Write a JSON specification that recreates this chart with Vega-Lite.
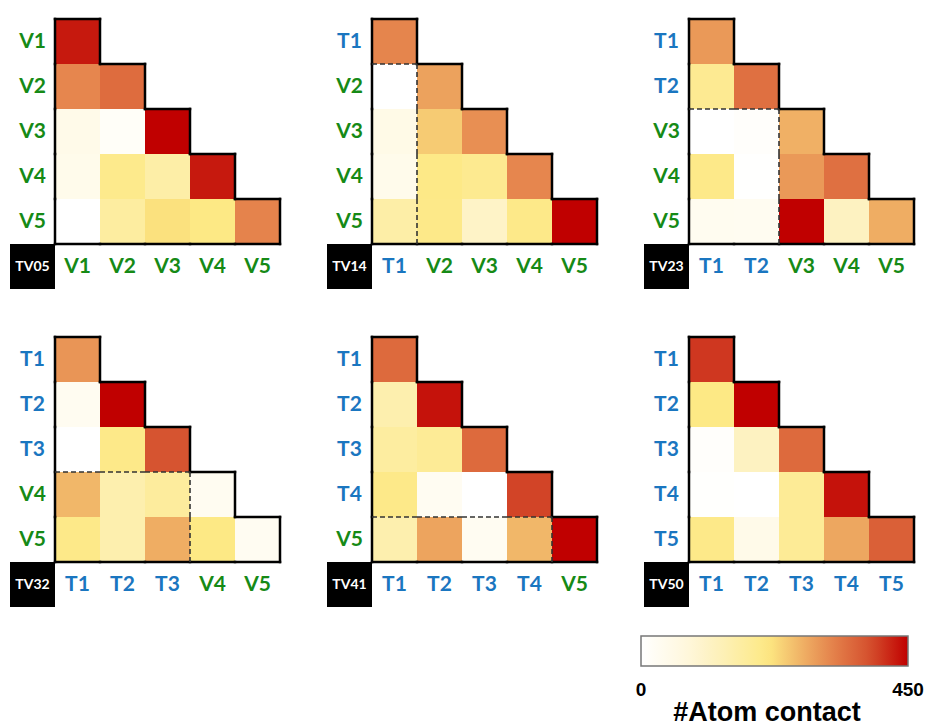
{
  "$schema": "https://vega.github.io/schema/vega-lite/v6.json",
  "padding": {"left": 10, "top": 17, "right": 0, "bottom": 0},
  "background": "white",
  "data": {
    "values": [
      {"panel": "TV05", "r": 1, "c": 1, "rl": "V1", "cl": "V1", "v": 430},
      {"panel": "TV05", "r": 2, "c": 1, "rl": "V2", "cl": "V1", "v": 318},
      {"panel": "TV05", "r": 2, "c": 2, "rl": "V2", "cl": "V2", "v": 350},
      {"panel": "TV05", "r": 3, "c": 1, "rl": "V3", "cl": "V1", "v": 50},
      {"panel": "TV05", "r": 3, "c": 2, "rl": "V3", "cl": "V2", "v": 15},
      {"panel": "TV05", "r": 3, "c": 3, "rl": "V3", "cl": "V3", "v": 450},
      {"panel": "TV05", "r": 4, "c": 1, "rl": "V4", "cl": "V1", "v": 45},
      {"panel": "TV05", "r": 4, "c": 2, "rl": "V4", "cl": "V2", "v": 200},
      {"panel": "TV05", "r": 4, "c": 3, "rl": "V4", "cl": "V3", "v": 160},
      {"panel": "TV05", "r": 4, "c": 4, "rl": "V4", "cl": "V4", "v": 430},
      {"panel": "TV05", "r": 5, "c": 1, "rl": "V5", "cl": "V1", "v": 0},
      {"panel": "TV05", "r": 5, "c": 2, "rl": "V5", "cl": "V2", "v": 170},
      {"panel": "TV05", "r": 5, "c": 3, "rl": "V5", "cl": "V3", "v": 222},
      {"panel": "TV05", "r": 5, "c": 4, "rl": "V5", "cl": "V4", "v": 210},
      {"panel": "TV05", "r": 5, "c": 5, "rl": "V5", "cl": "V5", "v": 322},

      {"panel": "TV14", "r": 1, "c": 1, "rl": "T1", "cl": "T1", "v": 320},
      {"panel": "TV14", "r": 2, "c": 1, "rl": "V2", "cl": "T1", "v": 0},
      {"panel": "TV14", "r": 2, "c": 2, "rl": "V2", "cl": "V2", "v": 288},
      {"panel": "TV14", "r": 3, "c": 1, "rl": "V3", "cl": "T1", "v": 55},
      {"panel": "TV14", "r": 3, "c": 2, "rl": "V3", "cl": "V2", "v": 245},
      {"panel": "TV14", "r": 3, "c": 3, "rl": "V3", "cl": "V3", "v": 308},
      {"panel": "TV14", "r": 4, "c": 1, "rl": "V4", "cl": "T1", "v": 45},
      {"panel": "TV14", "r": 4, "c": 2, "rl": "V4", "cl": "V2", "v": 208},
      {"panel": "TV14", "r": 4, "c": 3, "rl": "V4", "cl": "V3", "v": 195},
      {"panel": "TV14", "r": 4, "c": 4, "rl": "V4", "cl": "V4", "v": 318},
      {"panel": "TV14", "r": 5, "c": 1, "rl": "V5", "cl": "T1", "v": 160},
      {"panel": "TV14", "r": 5, "c": 2, "rl": "V5", "cl": "V2", "v": 205},
      {"panel": "TV14", "r": 5, "c": 3, "rl": "V5", "cl": "V3", "v": 110},
      {"panel": "TV14", "r": 5, "c": 4, "rl": "V5", "cl": "V4", "v": 205},
      {"panel": "TV14", "r": 5, "c": 5, "rl": "V5", "cl": "V5", "v": 450},

      {"panel": "TV23", "r": 1, "c": 1, "rl": "T1", "cl": "T1", "v": 298},
      {"panel": "TV23", "r": 2, "c": 1, "rl": "T2", "cl": "T1", "v": 192},
      {"panel": "TV23", "r": 2, "c": 2, "rl": "T2", "cl": "T2", "v": 345},
      {"panel": "TV23", "r": 3, "c": 1, "rl": "V3", "cl": "T1", "v": 0},
      {"panel": "TV23", "r": 3, "c": 2, "rl": "V3", "cl": "T2", "v": 8},
      {"panel": "TV23", "r": 3, "c": 3, "rl": "V3", "cl": "V3", "v": 272},
      {"panel": "TV23", "r": 4, "c": 1, "rl": "V4", "cl": "T1", "v": 205},
      {"panel": "TV23", "r": 4, "c": 2, "rl": "V4", "cl": "T2", "v": 3},
      {"panel": "TV23", "r": 4, "c": 3, "rl": "V4", "cl": "V3", "v": 298},
      {"panel": "TV23", "r": 4, "c": 4, "rl": "V4", "cl": "V4", "v": 345},
      {"panel": "TV23", "r": 5, "c": 1, "rl": "V5", "cl": "T1", "v": 35},
      {"panel": "TV23", "r": 5, "c": 2, "rl": "V5", "cl": "T2", "v": 32},
      {"panel": "TV23", "r": 5, "c": 3, "rl": "V5", "cl": "V3", "v": 450},
      {"panel": "TV23", "r": 5, "c": 4, "rl": "V5", "cl": "V4", "v": 120},
      {"panel": "TV23", "r": 5, "c": 5, "rl": "V5", "cl": "V5", "v": 275},

      {"panel": "TV32", "r": 1, "c": 1, "rl": "T1", "cl": "T1", "v": 302},
      {"panel": "TV32", "r": 2, "c": 1, "rl": "T2", "cl": "T1", "v": 32},
      {"panel": "TV32", "r": 2, "c": 2, "rl": "T2", "cl": "T2", "v": 450},
      {"panel": "TV32", "r": 3, "c": 1, "rl": "T3", "cl": "T1", "v": 0},
      {"panel": "TV32", "r": 3, "c": 2, "rl": "T3", "cl": "T2", "v": 205},
      {"panel": "TV32", "r": 3, "c": 3, "rl": "T3", "cl": "T3", "v": 380},
      {"panel": "TV32", "r": 4, "c": 1, "rl": "V4", "cl": "T1", "v": 265},
      {"panel": "TV32", "r": 4, "c": 2, "rl": "V4", "cl": "T2", "v": 150},
      {"panel": "TV32", "r": 4, "c": 3, "rl": "V4", "cl": "T3", "v": 175},
      {"panel": "TV32", "r": 4, "c": 4, "rl": "V4", "cl": "V4", "v": 32},
      {"panel": "TV32", "r": 5, "c": 1, "rl": "V5", "cl": "T1", "v": 205},
      {"panel": "TV32", "r": 5, "c": 2, "rl": "V5", "cl": "T2", "v": 150},
      {"panel": "TV32", "r": 5, "c": 3, "rl": "V5", "cl": "T3", "v": 275},
      {"panel": "TV32", "r": 5, "c": 4, "rl": "V5", "cl": "V4", "v": 210},
      {"panel": "TV32", "r": 5, "c": 5, "rl": "V5", "cl": "V5", "v": 30},

      {"panel": "TV41", "r": 1, "c": 1, "rl": "T1", "cl": "T1", "v": 352},
      {"panel": "TV41", "r": 2, "c": 1, "rl": "T2", "cl": "T1", "v": 150},
      {"panel": "TV41", "r": 2, "c": 2, "rl": "T2", "cl": "T2", "v": 435},
      {"panel": "TV41", "r": 3, "c": 1, "rl": "T3", "cl": "T1", "v": 170},
      {"panel": "TV41", "r": 3, "c": 2, "rl": "T3", "cl": "T2", "v": 185},
      {"panel": "TV41", "r": 3, "c": 3, "rl": "T3", "cl": "T3", "v": 352},
      {"panel": "TV41", "r": 4, "c": 1, "rl": "T4", "cl": "T1", "v": 205},
      {"panel": "TV41", "r": 4, "c": 2, "rl": "T4", "cl": "T2", "v": 30},
      {"panel": "TV41", "r": 4, "c": 3, "rl": "T4", "cl": "T3", "v": 0},
      {"panel": "TV41", "r": 4, "c": 4, "rl": "T4", "cl": "T4", "v": 395},
      {"panel": "TV41", "r": 5, "c": 1, "rl": "V5", "cl": "T1", "v": 150},
      {"panel": "TV41", "r": 5, "c": 2, "rl": "V5", "cl": "T2", "v": 285},
      {"panel": "TV41", "r": 5, "c": 3, "rl": "V5", "cl": "T3", "v": 30},
      {"panel": "TV41", "r": 5, "c": 4, "rl": "V5", "cl": "T4", "v": 265},
      {"panel": "TV41", "r": 5, "c": 5, "rl": "V5", "cl": "V5", "v": 450},

      {"panel": "TV50", "r": 1, "c": 1, "rl": "T1", "cl": "T1", "v": 405},
      {"panel": "TV50", "r": 2, "c": 1, "rl": "T2", "cl": "T1", "v": 210},
      {"panel": "TV50", "r": 2, "c": 2, "rl": "T2", "cl": "T2", "v": 450},
      {"panel": "TV50", "r": 3, "c": 1, "rl": "T3", "cl": "T1", "v": 8},
      {"panel": "TV50", "r": 3, "c": 2, "rl": "T3", "cl": "T2", "v": 120},
      {"panel": "TV50", "r": 3, "c": 3, "rl": "T3", "cl": "T3", "v": 352},
      {"panel": "TV50", "r": 4, "c": 1, "rl": "T4", "cl": "T1", "v": 5},
      {"panel": "TV50", "r": 4, "c": 2, "rl": "T4", "cl": "T2", "v": 0},
      {"panel": "TV50", "r": 4, "c": 3, "rl": "T4", "cl": "T3", "v": 185},
      {"panel": "TV50", "r": 4, "c": 4, "rl": "T4", "cl": "T4", "v": 435},
      {"panel": "TV50", "r": 5, "c": 1, "rl": "T5", "cl": "T1", "v": 205},
      {"panel": "TV50", "r": 5, "c": 2, "rl": "T5", "cl": "T2", "v": 50},
      {"panel": "TV50", "r": 5, "c": 3, "rl": "T5", "cl": "T3", "v": 185},
      {"panel": "TV50", "r": 5, "c": 4, "rl": "T5", "cl": "T4", "v": 282},
      {"panel": "TV50", "r": 5, "c": 5, "rl": "T5", "cl": "T5", "v": 365}
    ]
  },
  "facet": {"field": "panel", "type": "nominal", "title": null,
            "header": {"labels": false, "title": null, "labelExpr": "''", "labelFontSize": 0, "labelPadding": 0}},
  "columns": 3,
  "spacing": {"row": 46, "column": 45},
  "spec": {
    "width": 270,
    "height": 270,
    "encoding": {
      "x": {"field": "c", "type": "ordinal", "axis": null,
            "scale": {"domain": [0, 1, 2, 3, 4, 5], "paddingInner": 0, "paddingOuter": 0}},
      "y": {"field": "r", "type": "ordinal", "axis": null,
            "scale": {"domain": [1, 2, 3, 4, 5, 6], "paddingInner": 0, "paddingOuter": 0}}
    },
    "layer": [
      {
        "mark": {"type": "rect", "strokeWidth": 0},
        "encoding": {
          "color": {
            "field": "v", "type": "quantitative",
            "scale": {
              "domain": [0, 70, 135, 215, 270, 325, 385, 450],
              "range": ["#ffffff", "#fff8e0", "#fdf0b8", "#fde882", "#f0b266", "#e4804a", "#d5502e", "#c00000"],
              "interpolate": "rgb"
            },
            "legend": {
              "orient": "none", "legendX": 631, "legendY": 617,
              "direction": "horizontal", "gradientLength": 267, "gradientThickness": 30,
              "values": [0, 450],
              "title": "#Atom contact", "titleOrient": "bottom", "titleAnchor": "middle",
              "titleFont": "Liberation Sans", "titleFontSize": 27, "titleFontWeight": "bold", "titleColor": "#000000",
              "titlePadding": 0, "titleLimit": 400,
              "labelFont": "Liberation Sans", "labelFontSize": 19, "labelFontWeight": "bold", "labelColor": "#000000",
              "labelOffset": 15, "labelOverlap": false,
              "gradientStrokeColor": "#777777", "gradientStrokeWidth": 1.5,
              "encode": {
                "labels": {"update": {"align": {"value": "center"}}},
                "title": {"update": {"dx": {"value": -8}}}
              }
            }
          }
        }
      },
      {
        "transform": [{"filter": "datum.r == datum.c"}],
        "mark": {"type": "rule", "color": "#000000", "strokeWidth": 2.5, "strokeCap": "square"},
        "encoding": {
          "x": {"field": "c", "type": "ordinal", "bandPosition": 0},
          "x2": {"field": "c", "bandPosition": 1},
          "y": {"field": "r", "type": "ordinal", "bandPosition": 0}
        }
      },
      {
        "transform": [{"filter": "datum.r == datum.c"}],
        "mark": {"type": "rule", "color": "#000000", "strokeWidth": 2.5, "strokeCap": "square"},
        "encoding": {
          "x": {"field": "c", "type": "ordinal", "bandPosition": 1},
          "y": {"field": "r", "type": "ordinal", "bandPosition": 0},
          "y2": {"field": "r", "bandPosition": 1}
        }
      },
      {
        "transform": [{"filter": "datum.c == 1"}],
        "mark": {"type": "rule", "color": "#000000", "strokeWidth": 2.5, "strokeCap": "square"},
        "encoding": {
          "x": {"field": "c", "type": "ordinal", "bandPosition": 0},
          "y": {"field": "r", "type": "ordinal", "bandPosition": 0},
          "y2": {"field": "r", "bandPosition": 1}
        }
      },
      {
        "transform": [{"filter": "datum.r == 5"}],
        "mark": {"type": "rule", "color": "#000000", "strokeWidth": 2.5, "strokeCap": "square"},
        "encoding": {
          "x": {"field": "c", "type": "ordinal", "bandPosition": 0},
          "x2": {"field": "c", "bandPosition": 1},
          "y": {"field": "r", "type": "ordinal", "bandPosition": 1}
        }
      },
      {
        "transform": [
          {"filter": "indexof(datum.rl, 'V') == 0 && indexof(datum.cl, 'T') == 0"},
          {"joinaggregate": [{"op": "min", "field": "r", "as": "firstV"}], "groupby": ["panel"]},
          {"filter": "datum.r == datum.firstV"}
        ],
        "mark": {"type": "rule", "color": "#333333", "strokeWidth": 1.6, "strokeDash": [5, 3]},
        "encoding": {
          "x": {"field": "c", "type": "ordinal", "bandPosition": 0},
          "x2": {"field": "c", "bandPosition": 1},
          "y": {"field": "r", "type": "ordinal", "bandPosition": 0}
        }
      },
      {
        "transform": [
          {"filter": "indexof(datum.rl, 'V') == 0 && indexof(datum.cl, 'T') == 0"},
          {"joinaggregate": [{"op": "max", "field": "c", "as": "lastT"}], "groupby": ["panel"]},
          {"filter": "datum.c == datum.lastT"}
        ],
        "mark": {"type": "rule", "color": "#333333", "strokeWidth": 1.6, "strokeDash": [5, 3]},
        "encoding": {
          "x": {"field": "c", "type": "ordinal", "bandPosition": 1},
          "y": {"field": "r", "type": "ordinal", "bandPosition": 0},
          "y2": {"field": "r", "bandPosition": 1}
        }
      },
      {
        "transform": [{"filter": "datum.r == datum.c"}],
        "mark": {"type": "text", "font": "Lato", "fontSize": 21, "fontWeight": "bold", "align": "center", "baseline": "middle"},
        "encoding": {
          "x": {"datum": 0, "type": "ordinal"},
          "text": {"field": "rl"},
          "fill": {"condition": {"test": "indexof(datum.rl, 'T') == 0", "value": "#1a76c0"}, "value": "#168a16"}
        }
      },
      {
        "transform": [{"filter": "datum.r == datum.c"}],
        "mark": {"type": "text", "font": "Lato", "fontSize": 21, "fontWeight": "bold", "align": "center", "baseline": "middle"},
        "encoding": {
          "y": {"datum": 6, "type": "ordinal"},
          "text": {"field": "cl"},
          "fill": {"condition": {"test": "indexof(datum.cl, 'T') == 0", "value": "#1a76c0"}, "value": "#168a16"}
        }
      },
      {
        "transform": [{"filter": "datum.r == 1 && datum.c == 1"}],
        "mark": {"type": "rect", "color": "#000000"},
        "encoding": {
          "x": {"datum": 0, "type": "ordinal"},
          "y": {"datum": 6, "type": "ordinal"}
        }
      },
      {
        "transform": [{"filter": "datum.r == 1 && datum.c == 1"}],
        "mark": {"type": "text", "font": "Lato", "fontSize": 14, "fontWeight": "bold", "color": "#ffffff", "align": "center", "baseline": "middle"},
        "encoding": {
          "x": {"datum": 0, "type": "ordinal"},
          "y": {"datum": 6, "type": "ordinal"},
          "text": {"field": "panel"}
        }
      }
    ]
  },
  "config": {
    "view": {"stroke": null},
    "header": {"labels": false, "title": null},
    "headerFacet": {"labels": false, "title": null}
  }
}
